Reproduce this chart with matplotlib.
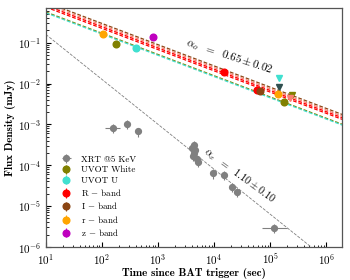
import numpy as np
import matplotlib
matplotlib.use("Agg")
import matplotlib.pyplot as plt

plt.rcParams["font.family"] = ["cmr10", "DejaVu Serif"]
plt.rcParams["mathtext.fontset"] = "cm"
plt.rcParams["axes.formatter.use_mathtext"] = True
plt.rcParams["axes.unicode_minus"] = False

# X-ray afterglow (XRT @5 keV)
xrt_t = [160, 275, 435, 4300, 4100, 4600, 4450, 4250, 4900, 5100,
         9400, 14800, 20500, 26000, 115000]
xrt_f = [8.0e-4, 1.0e-3, 6.7e-4, 3.1e-4, 2.6e-4, 2.3e-4, 2.0e-4, 1.7e-4,
         1.45e-4, 1.2e-4, 6.3e-5, 5.7e-5, 2.9e-5, 2.2e-5, 2.9e-6]
xrt_tlo = [48, 0, 0, 0, 0, 0, 0, 0, 0, 0, 0, 0, 0, 0, 43000]
xrt_thi = [53, 0, 0, 0, 0, 0, 0, 0, 0, 0, 0, 0, 0, 0, 81000]

# optical / UV detections
white_t, white_f = [177, 178000], [0.095, 0.0035]
u_t, u_f = [400], [0.075]
r_band_t, r_band_f = [14800, 59000], [0.019, 0.0071]
i_band_t, i_band_f = [67000], [0.0067]
rr_t, rr_f = [103, 135000], [0.166, 0.0054]
z_t, z_f = [830], [0.14]

# upper limits (down triangles)
lim_t = [145000, 145000, 240000, 225000]
lim_f = [0.0135, 0.0080, 0.0051, 0.0043]
lim_c = ["turquoise", "darkslategray", "olive", "salmon"]

# power-law fits: log10 flux at t = 10 s, decay index as drawn
opt_norm = [-0.01, -0.05, -0.09, -0.13, -0.25, -0.27]
opt_color = ["saddlebrown", "salmon", "red", "red", "olive", "turquoise"]
opt_slope = 0.52
x_norm, x_slope = 2.0, 1.10

fig = plt.figure(figsize=(3.5, 2.8), dpi=100)
ax = fig.add_axes([0.131, 0.118, 0.846, 0.853])

t = np.logspace(1, 6.4, 200)
for norm, col in zip(opt_norm, opt_color):
    ax.plot(t, 10 ** (norm - opt_slope * (np.log10(t) - 1)), ls=(0, (3, 1.5)),
            color=col, lw=0.9, zorder=2)
ax.plot(t, x_norm * t ** (-x_slope), ls="--", color="gray", lw=0.6, zorder=2)

ms = 4.8
ax.errorbar(xrt_t, xrt_f, xerr=[xrt_tlo, xrt_thi], yerr=np.array(xrt_f) * 0.25,
            fmt="o", color="gray", ms=4.2, elinewidth=0.8, capsize=0,
            label="XRT @5 KeV", zorder=4)
series = [
    (white_t, white_f, "olive", "UVOT White"),
    (u_t, u_f, "turquoise", "UVOT U"),
    (r_band_t, r_band_f, "red", "R $-$ band"),
    (i_band_t, i_band_f, "saddlebrown", "I $-$ band"),
    (rr_t, rr_f, "orange", "r $-$ band"),
    (z_t, z_f, "m", "z $-$ band"),
]
for tt, ff, col, lab in series:
    ax.errorbar(tt, ff, yerr=np.array(ff) * 0.15, fmt="o", color=col, ms=ms,
                elinewidth=0.8, capsize=0, label=lab, zorder=5)
for tt, ff, col in zip(lim_t, lim_f, lim_c):
    ax.plot(tt, ff, marker="v", color=col, ms=ms, ls="none", zorder=5)

ax.set_xscale("log")
ax.set_yscale("log")
ax.set_xlim(10, 1.9e6)
ax.set_ylim(1e-6, 0.7)
ax.tick_params(which="both", direction="in", labelsize=8, top=False, right=False)
ax.tick_params(which="major", length=3.5)
ax.tick_params(which="minor", length=1.8)
for s in ax.spines.values():
    s.set_color("#555555")
    s.set_linewidth(0.9)

ax.set_xlabel("Time since BAT trigger (sec)", family="cmb10", fontsize=8, labelpad=1)
ax.set_ylabel("Flux Density (mJy)", family="cmb10", fontsize=8, labelpad=1)

ax.text(18600, 0.047, r"$\alpha_o\ \ =\ \ \mathbf{0.65 \pm 0.02}$", rotation=-18,
        ha="center", va="center", fontsize=8, zorder=6)
ax.text(29000, 5.6e-5, r"$\alpha_x\ \ =\ \ \mathbf{1.10 \pm 0.10}$", rotation=-36,
        ha="center", va="center", fontsize=7.5, zorder=6)

ax.legend(loc="lower left", bbox_to_anchor=(0.02, 0.0), frameon=False,
          fontsize=6.5, handlelength=1.2, handletextpad=1.0, labelspacing=0.25,
          borderaxespad=0.6)

fig.savefig("out.png", dpi=100)
